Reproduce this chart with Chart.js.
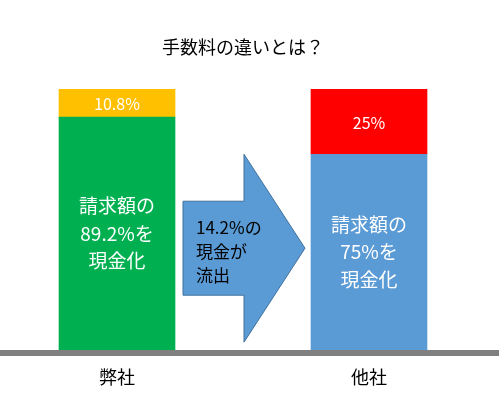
<!DOCTYPE html>
<html><head><meta charset="utf-8">
<script src="https://cdn.jsdelivr.net/npm/chart.js@4.4.0/dist/chart.umd.min.js"></script>
<style>
html,body{margin:0;padding:0;background:#fff;overflow:hidden;width:499px;height:396px;}
#wrap{position:absolute;left:-9px;top:0;width:512px;height:396px;}
</style></head>
<body><div id="wrap"><canvas id="c" width="512" height="396"></canvas></div>
<script>
const categories = ['弊社', '他社'];
const cashedValues = [89.2, 75];
const feeValues = [10.8, 25];
const cashedLabels = [['請求額の', '89.2%を', '現金化'], ['請求額の', '75%を', '現金化']];
const feeLabels = ['10.8%', '25%'];
const arrowLabel = ['14.2%の', '現金が', '流出'];
const titleText = '手数料の違いとは？';

const FONT = '"Noto Sans CJK JP", "Noto Sans", sans-serif';

const overlay = {
  id: 'overlay',
  afterDatasetsDraw(chart) {
    const ctx = chart.ctx;
    const ys = chart.scales.y;
    const m0 = chart.getDatasetMeta(0).data;
    const m1 = chart.getDatasetMeta(1).data;
    // arrow between the bars
    const leftEdge = m0[0].x + m0[0].width / 2 + 8;
    const rightEdge = m0[1].x - m0[1].width / 2 - 6;
    const headX = leftEdge + 61;
    const headTop = ys.getPixelForValue(75);
    const headBot = ys.getPixelForValue(3);
    const bodyTop = ys.getPixelForValue(57);
    const bodyBot = ys.getPixelForValue(21);
    const mid = (headTop + headBot) / 2;
    ctx.save();
    ctx.beginPath();
    ctx.moveTo(leftEdge, bodyTop);
    ctx.lineTo(headX, bodyTop);
    ctx.lineTo(headX, headTop);
    ctx.lineTo(rightEdge, mid);
    ctx.lineTo(headX, headBot);
    ctx.lineTo(headX, bodyBot);
    ctx.lineTo(leftEdge, bodyBot);
    ctx.closePath();
    ctx.fillStyle = '#5b9bd5';
    ctx.fill();
    ctx.strokeStyle = '#41719c';
    ctx.lineWidth = 1;
    ctx.stroke();
    ctx.fillStyle = '#000';
    ctx.font = '17px ' + FONT;
    ctx.textAlign = 'left';
    ctx.textBaseline = 'middle';
    arrowLabel.forEach((t, i) => {
      ctx.fillText(t, leftEdge + 13, mid + 3 + (i - 1) * 24);
    });
    // bar labels
    ctx.fillStyle = '#fff';
    ctx.textAlign = 'center';
    m0.forEach((bar, i) => {
      const cy = (bar.y + bar.base) / 2;
      ctx.font = '19px ' + FONT;
      cashedLabels[i].forEach((t, j) => {
        ctx.fillText(t, bar.x, cy + (j - 1) * 27.5);
      });
    });
    m1.forEach((bar, i) => {
      const cy = (bar.y + bar.base) / 2 + 1;
      ctx.font = '16px ' + FONT;
      ctx.fillText(feeLabels[i], bar.x, cy);
    });
    // baseline
    ctx.fillStyle = '#808080';
    ctx.fillRect(0, chart.chartArea.bottom, chart.width, 6);
    ctx.restore();
  }
};

new Chart(document.getElementById('c'), {
  type: 'bar',
  data: {
    labels: categories,
    datasets: [
      { data: cashedValues, backgroundColor: ['#00b050', '#5b9bd5'], barThickness: 116 },
      { data: feeValues, backgroundColor: ['#ffc000', '#ff0000'], barThickness: 116 }
    ]
  },
  options: {
    responsive: false,
    animation: false,
    layout: { padding: { left: 0, right: 8, top: 0, bottom: 0 } },
    plugins: {
      legend: { display: false },
      tooltip: { enabled: false },
      title: {
        display: true,
        text: titleText,
        color: '#000',
        font: { family: FONT, size: 18, weight: 'normal', lineHeight: 1.2 },
        padding: { top: 36, bottom: 31.4 }
      }
    },
    scales: {
      x: {
        stacked: true,
        grid: { display: false, drawTicks: false },
        border: { display: false },
        ticks: { color: '#000', font: { family: FONT, size: 18 }, padding: 16 },
        afterFit(s) { s.height = 46; }
      },
      y: {
        stacked: true,
        display: false,
        min: 0,
        max: 100
      }
    }
  },
  plugins: [overlay]
});
</script>
</body></html>
